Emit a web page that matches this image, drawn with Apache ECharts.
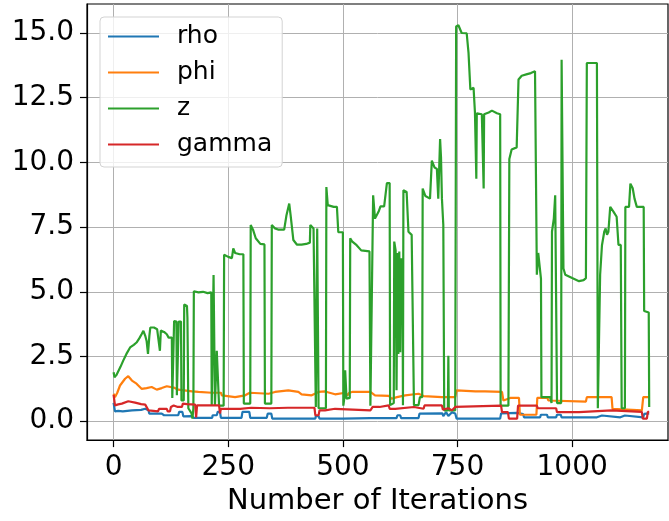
<!DOCTYPE html>
<html>
<head>
<meta charset="utf-8">
<script src="https://cdn.jsdelivr.net/npm/echarts@6/dist/echarts.min.js"></script>
<style>html,body{margin:0;padding:0;background:#fff}#c{width:669px;height:521px}</style>
</head>
<body>
<div id="c"></div>
<script>
// ---- data ----
const seriesNames = ['rho', 'phi', 'z', 'gamma'];
const xTicks = [0, 250, 500, 750, 1000];
const yTicks = [0, 2.5, 5, 7.5, 10, 12.5, 15];

const rho = [[0,0.71],[3,0.38],[10,0.4],[20,0.38],[40,0.42],[60,0.44],[69,0.48],[72,0.44],[76,0.42],[78,0.29],[105,0.29],[110,0.23],[141,0.23],[143,0.36],[150,0.36],[152,0.19],[170,0.2],[175,0.13],[215,0.13],[216,0.23],[225,0.23],[227,0.36],[232,0.36],[234,0.13],[279,0.13],[281,0.36],[296,0.36],[298,0.13],[334,0.13],[336,0.29],[344,0.29],[346,0.1],[440,0.1],[441,0.2],[447,0.2],[449,0.1],[500,0.1],[502,0.13],[560,0.12],[617,0.12],[619,0.23],[625,0.23],[627,0.12],[665,0.12],[667,0.29],[717,0.3],[719,0.2],[725,0.35],[730,0.2],[738,0.35],[745,0.3],[748,0.1],[843,0.1],[845,0.3],[880,0.32],[883,0.28],[893,0.28],[895,0.15],[930,0.15],[932,0.25],[945,0.25],[947,0.15],[965,0.15],[967,0.25],[975,0.25],[977,0.15],[1054,0.15],[1056,0.22],[1065,0.22],[1067,0.15],[1105,0.15],[1107,0.22],[1115,0.22],[1117,0.15],[1155,0.15],[1157,0.28],[1168,0.3]];

const phi = [[0,1.06],[3,0.93],[8,1.1],[14,1.38],[25,1.64],[32,1.74],[40,1.57],[50,1.45],[61,1.25],[72,1.28],[83,1.32],[94,1.22],[105,1.28],[116,1.35],[131,1.3],[141,1.22],[171,1.15],[185,1.13],[214,1.1],[234,1.1],[236,1.0],[265,0.93],[287,1.0],[297,1.1],[338,1.06],[352,1.13],[381,1.19],[403,1.13],[410,1.04],[432,1.0],[447,1.13],[461,1.15],[483,1.04],[505,1.1],[510,1.0],[514,1.1],[520,1.13],[560,1.13],[570,1.0],[600,0.98],[606,0.87],[618,0.93],[636,1.0],[665,1.06],[676,0.97],[716,0.93],[745,0.93],[748,1.19],[789,1.15],[790,1.08],[792,1.15],[810,1.15],[811,1.08],[813,1.15],[847,1.13],[850,0.8],[865,0.9],[884,0.9],[886,0.25],[922,0.25],[924,0.9],[946,0.9],[948,0.8],[1030,0.76],[1032,0.93],[1086,0.93],[1088,0.48],[1152,0.42],[1155,0.93],[1168,0.93]];

const z = [[0,1.89],[2,1.7],[6,1.78],[10,1.83],[15,2.1],[21,2.34],[28,2.6],[36,2.85],[44,2.95],[50,3.04],[56,3.2],[61,3.36],[65,3.49],[69,3.3],[72,3.1],[75,2.6],[78,3.3],[80,3.62],[88,3.62],[95,3.55],[99,3.5],[101,2.72],[103,3.5],[110,3.45],[116,3.36],[120,3.23],[127,3.23],[128,0.9],[131,0.9],[132,3.87],[137,3.85],[138,1.0],[141,1.0],[142,3.85],[147,3.85],[148,0.8],[153,0.8],[154,4.51],[160,4.45],[161,4.0],[163,0.5],[170,0.3],[172,0.1],[174,0.5],[175,5.02],[185,4.98],[195,5.0],[205,4.95],[213,4.98],[214,0.6],[217,0.6],[218,5.65],[220,5.6],[221,0.6],[224,0.6],[225,2.72],[229,2.7],[230,0.6],[240,0.6],[241,6.43],[250,6.35],[258,6.3],[261,6.68],[265,6.5],[275,6.45],[283,6.45],[284,0.68],[298,0.68],[299,7.58],[304,7.4],[310,7.07],[320,6.85],[329,6.83],[330,0.68],[344,0.68],[345,7.58],[352,7.45],[360,7.4],[372,7.4],[377,7.96],[383,8.41],[386,7.96],[392,7.0],[400,6.82],[410,6.82],[420,6.85],[428,6.9],[429,7.58],[436,7.45],[440,7.45],[441,0.55],[443,0.55],[444,7.45],[446,7.45],[447,0.5],[463,0.5],[464,9.05],[467,8.35],[480,8.28],[487,8.28],[490,7.3],[500,7.3],[501,0.6],[503,0.87],[505,1.97],[507,1.97],[508,0.87],[515,0.9],[516,7.07],[520,6.95],[530,6.8],[540,6.6],[558,6.56],[560,0.6],[564,0.6],[566,8.73],[570,7.83],[574,7.9],[578,8.1],[582,8.3],[590,8.3],[596,9.2],[602,9.2],[603,0.62],[611,0.7],[612,6.94],[615,6.6],[617,1.2],[619,6.5],[621,2.6],[623,6.56],[625,2.66],[627,6.3],[630,6.0],[631,0.62],[632,8.92],[639,8.86],[643,7.32],[650,7.2],[654,7.15],[655,0.62],[665,0.62],[668,0.93],[673,0.93],[674,8.99],[680,8.7],[690,8.6],[694,10.07],[700,9.8],[705,9.75],[708,8.6],[712,10.9],[714,10.2],[716,8.6],[719,7.58],[721,0.42],[729,0.42],[730,2.53],[731,0.42],[745,0.42],[747,15.25],[752,15.3],[759,15.0],[770,14.99],[774,14.23],[778,12.82],[785,12.88],[788,11.93],[790,11.9],[791,9.37],[792,11.9],[803,11.86],[806,11.8],[807,8.99],[808,11.86],[818,11.93],[825,12.0],[836,11.9],[843,11.86],[844,0.6],[861,0.6],[863,10.13],[868,10.5],[879,10.58],[883,13.2],[890,13.35],[900,13.4],[910,13.45],[919,13.52],[922,13.52],[923,5.66],[926,6.5],[929,6.0],[932,5.5],[933,0.93],[952,0.93],[955,0.7],[956,7.32],[960,7.83],[963,8.73],[966,8.73],[967,0.7],[976,0.7],[977,13.97],[980,13.97],[981,5.9],[985,5.66],[1000,5.53],[1015,5.41],[1025,5.45],[1030,5.53],[1032,13.84],[1040,13.84],[1054,13.84],[1056,0.5],[1060,0.5],[1061,5.66],[1065,6.8],[1070,7.32],[1073,7.45],[1076,7.2],[1079,7.32],[1083,8.28],[1090,8.1],[1097,7.9],[1101,6.81],[1106,6.81],[1108,0.5],[1115,0.5],[1116,8.28],[1124,8.28],[1127,9.18],[1132,9.0],[1136,8.6],[1141,8.28],[1156,8.28],[1157,4.26],[1167,4.2],[1168,0.55]];

const gamma = [[0,1.02],[3,0.61],[10,0.65],[18,0.68],[32,0.77],[47,0.72],[60,0.66],[69,0.64],[72,0.6],[76,0.42],[97,0.38],[99,0.48],[116,0.48],[118,0.38],[123,0.38],[125,0.55],[131,0.61],[140,0.55],[149,0.55],[151,0.68],[160,0.66],[178,0.64],[180,0.15],[182,0.61],[230,0.61],[232,0.3],[234,0.48],[276,0.48],[300,0.52],[340,0.5],[380,0.52],[438,0.52],[440,0.23],[447,0.23],[449,0.42],[461,0.42],[463,0.48],[483,0.48],[485,0.42],[560,0.42],[565,0.55],[580,0.55],[582,0.61],[600,0.61],[602,0.48],[614,0.48],[616,0.55],[655,0.55],[657,0.48],[676,0.48],[678,0.61],[716,0.61],[718,0.45],[730,0.5],[738,0.42],[745,0.55],[748,0.6],[845,0.6],[847,0.35],[860,0.35],[862,0.1],[880,0.1],[882,0.6],[923,0.6],[925,0.5],[965,0.5],[967,0.35],[1015,0.35],[1017,0.42],[1086,0.42],[1088,0.36],[1152,0.36],[1154,0.1],[1163,0.1],[1165,0.36],[1168,0.36]];

const seriesData = [rho, phi, z, gamma];
const colors = ['#1f77b4', '#ff7f0e', '#2ca02c', '#d62728'];

const FONT = 'DejaVu Sans';
const chart = echarts.init(document.getElementById('c'), null, {renderer: 'canvas'});
chart.setOption({
  animation: false,
  backgroundColor: '#fff',
  grid: {left: 87, right: 1, top: 4, bottom: 78, show: true, borderColor: '#000', borderWidth: 1.2, backgroundColor: 'transparent'},
  legend: {
    orient: 'vertical', left: 100, top: 17,
    padding: [7, 10, 10, 8],
    itemWidth: 51, itemHeight: 2, itemGap: 11,
    icon: 'rect',
    backgroundColor: 'rgba(255,255,255,0.8)',
    borderColor: '#d3d3d3', borderWidth: 1, borderRadius: 4,
    selectedMode: false,
    textStyle: {fontFamily: FONT, fontSize: 25, color: '#000', padding: [0, 0, 0, 13], lineHeight: 25},
    data: seriesNames
  },
  xAxis: {
    type: 'value', min: -58, max: 1209,
    name: 'Number of Iterations', nameLocation: 'middle', nameGap: 44,
    nameTextStyle: {fontFamily: FONT, fontSize: 29, color: '#000'},
    axisLine: {show: true, onZero: false, lineStyle: {color: '#000', width: 1.2}},
    axisTick: {show: true, length: 7, lineStyle: {color: '#000', width: 1.2}, customValues: xTicks},
    axisLabel: {fontFamily: FONT, fontSize: 28, color: '#000', margin: 14, customValues: xTicks,
      formatter: v => String(v)},
    splitLine: {show: true, lineStyle: {color: '#b0b0b0', width: 1}}
  },
  yAxis: {
    type: 'value', min: -0.73, max: 16.12,
    axisLine: {show: true, onZero: false, lineStyle: {color: '#000', width: 1.2}},
    axisTick: {show: true, length: 7, lineStyle: {color: '#000', width: 1.2}, customValues: yTicks},
    axisLabel: {fontFamily: FONT, fontSize: 28, color: '#000', margin: 13, customValues: yTicks,
      padding: [9, 0, 0, 0],
      formatter: v => Number(v).toFixed(1)},
    splitLine: {show: true, lineStyle: {color: '#b0b0b0', width: 1}}
  },
  series: seriesNames.map((n, i) => ({
    name: n, type: 'line', data: seriesData[i], showSymbol: false, symbol: 'none',
    lineStyle: {color: colors[i], width: 2.2}, itemStyle: {color: colors[i]},
    emphasis: {disabled: true}
  }))
});
</script>
</body>
</html>
